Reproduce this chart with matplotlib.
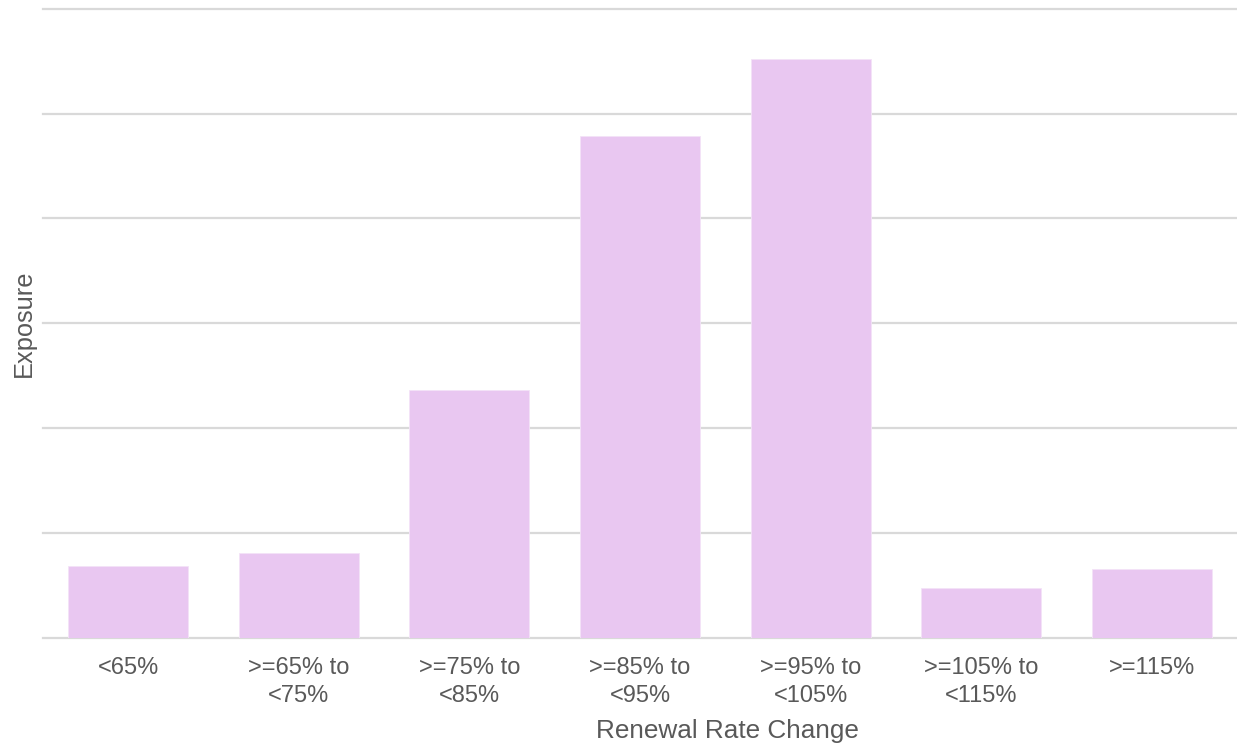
import matplotlib
matplotlib.use('Agg')
import matplotlib.pyplot as plt
import numpy as np

categories = ['<65%', '>=65% to\n<75%', '>=75% to\n<85%', '>=85% to\n<95%',
              '>=95% to\n<105%', '>=105% to\n<115%', '>=115%']
exposure = [0.684, 0.811, 2.36, 4.786, 5.52, 0.477, 0.658]

bar_color = '#e9c7f1'
text_color = '#595959'
grid_color = '#d9d9d9'

plt.rcParams['font.family'] = ['Liberation Sans', 'DejaVu Sans']

fig = plt.figure(figsize=(12.37, 7.48), dpi=100)
ax = fig.add_axes([43 / 1237, (748 - 637.7) / 748, 1194 / 1237, 629 / 748])

x_pos = np.arange(len(categories))
ax.bar(x_pos, exposure, width=0.703, color=bar_color, edgecolor='#f3e3f7',
       linewidth=0.6, zorder=3)

ax.set_xlim(-0.5, len(categories) - 0.5)
ax.set_ylim(0, 6)
ax.set_yticks(np.arange(0, 7, 1))
ax.set_yticklabels([])
ax.set_xticks(x_pos)
ax.set_xticklabels(categories, fontsize=17, color=text_color, linespacing=1.32)
ax.tick_params(axis='both', length=0)
ax.tick_params(axis='x', pad=14)

ax.grid(axis='y', color=grid_color, linewidth=1.6, zorder=0)
ax.grid(axis='x', visible=False)
for line in ax.get_ygridlines():
    line.set_clip_on(False)
for s in ax.spines.values():
    s.set_visible(False)

ax.set_xlabel('Renewal Rate Change', fontsize=18.8, color=text_color)
ax.xaxis.set_label_coords(0.573, -0.13)
ax.set_ylabel('Exposure', fontsize=18.3, color=text_color)
ax.yaxis.set_label_coords(-0.006, 0.5)

fig.savefig('out.png', dpi=100)
